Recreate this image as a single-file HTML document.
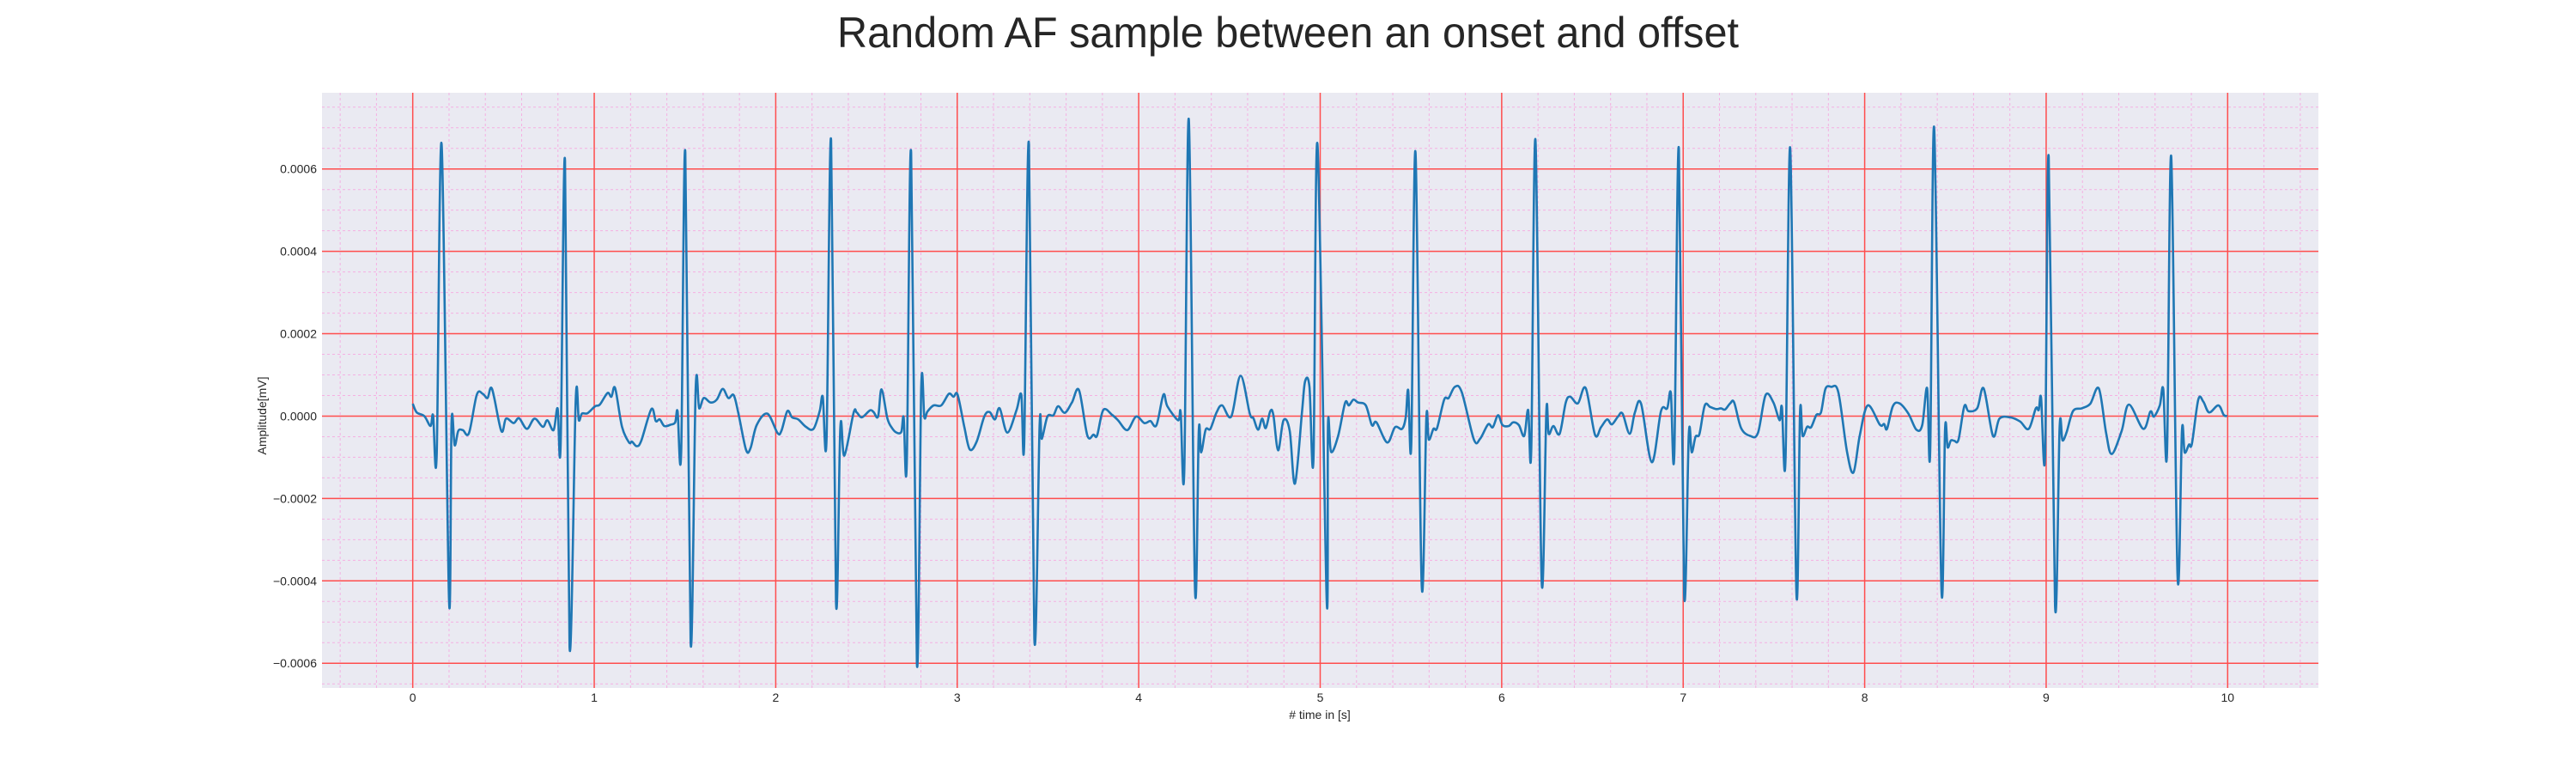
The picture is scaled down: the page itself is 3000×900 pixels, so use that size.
<!DOCTYPE html>
<html><head><meta charset="utf-8">
<style>
html,body{margin:0;padding:0;background:#fff;width:3000px;height:900px;overflow:hidden}
svg{display:block}
text{font-family:"Liberation Sans",sans-serif;fill:#262626}
</style></head>
<body>
<svg id="chart" width="3000" height="900" xmlns="http://www.w3.org/2000/svg">
<text x="1500" y="55" text-anchor="middle" font-size="50" textLength="1050" lengthAdjust="spacingAndGlyphs">Random AF sample between an onset and offset</text>
<rect x="375" y="108" width="2325" height="693" fill="#eaeaf2"/>
<g id="grid"></g>
<g id="ticks"></g>
<g id="series"></g>
<text x="1537" y="837" text-anchor="middle" font-size="14"># time in [s]</text>
<text transform="translate(310,484) rotate(-90)" text-anchor="middle" font-size="14">Amplitude[mV]</text>
</svg>
<script>
// data: time (s) and amplitude (units of 1e-5 mV)
const timeS = [0,0.022,0.064,0.098,0.112,0.132,0.159,0.2,0.214,0.231,0.251,0.276,0.31,0.353,0.386,0.412,0.437,0.488,0.514,0.556,0.586,0.629,0.671,0.717,0.742,0.776,0.798,0.815,0.839,0.864,0.898,0.915,0.932,0.963,1.005,1.031,1.073,1.095,1.115,1.153,1.192,1.208,1.234,1.259,1.315,1.339,1.361,1.386,1.42,1.446,1.459,1.479,1.502,1.531,1.559,1.578,1.603,1.641,1.675,1.708,1.739,1.768,1.793,1.836,1.861,1.895,1.954,2.01,2.031,2.064,2.09,2.124,2.166,2.208,2.242,2.259,2.28,2.305,2.332,2.356,2.378,2.429,2.446,2.475,2.519,2.539,2.564,2.583,2.615,2.641,2.666,2.692,2.705,2.722,2.746,2.778,2.802,2.819,2.836,2.87,2.912,2.954,2.98,3.002,3.039,3.069,3.107,3.149,3.178,3.208,3.234,3.276,3.327,3.353,3.369,3.395,3.425,3.454,3.466,3.497,3.53,3.556,3.593,3.632,3.671,3.717,3.751,3.771,3.805,3.853,3.886,3.937,3.985,4.031,4.064,4.098,4.136,4.158,4.217,4.231,4.251,4.276,4.31,4.331,4.344,4.369,4.395,4.429,4.46,4.51,4.561,4.612,4.632,4.658,4.68,4.7,4.725,4.742,4.768,4.798,4.832,4.861,4.9,4.917,4.941,4.963,4.985,5.036,5.043,5.06,5.099,5.137,5.158,5.183,5.208,5.251,5.285,5.31,5.369,5.412,5.451,5.471,5.485,5.502,5.525,5.559,5.585,5.598,5.624,5.644,5.683,5.708,5.742,5.78,5.847,5.881,5.925,5.951,5.98,6.005,6.039,6.064,6.095,6.124,6.146,6.163,6.186,6.22,6.246,6.259,6.285,6.319,6.353,6.378,6.42,6.463,6.514,6.547,6.581,6.607,6.641,6.666,6.705,6.734,6.768,6.827,6.878,6.912,6.932,6.951,6.976,7.005,7.031,7.047,7.068,7.09,7.119,7.149,7.183,7.208,7.231,7.259,7.281,7.319,7.369,7.412,7.454,7.497,7.531,7.544,7.564,7.59,7.624,7.644,7.658,7.683,7.705,7.734,7.759,7.784,7.815,7.855,7.902,7.938,7.973,8.017,8.084,8.107,8.123,8.155,8.191,8.241,8.285,8.317,8.344,8.361,8.383,8.423,8.443,8.457,8.475,8.494,8.517,8.549,8.572,8.62,8.656,8.707,8.743,8.801,8.856,8.904,8.943,8.959,8.972,8.994,9.014,9.049,9.074,9.09,9.112,9.148,9.196,9.243,9.29,9.33,9.361,9.416,9.456,9.535,9.574,9.594,9.626,9.645,9.666,9.689,9.724,9.748,9.763,9.787,9.803,9.838,9.866,9.898,9.949,9.978,9.997];
const ampE5 = [3.0,0.9,0,-2.4,0.2,-9.2,66,-45,-1.3,-7.1,-3.6,-3.4,-4.1,5.2,5.4,4.4,6.6,-3.6,-0.6,-1.7,-0.5,-3.1,-0.6,-2.6,-1.0,-3.4,1.9,-7.1,62,-56,4.0,-1.0,0.6,0.7,2.4,2.8,5.6,4.7,6.8,-2.6,-6.4,-6.2,-7.3,-6.0,1.7,-1.2,-0.8,-2.4,-2.1,-1.5,1.2,-8.7,64,-55,6.7,1.9,4.4,3.3,4.0,6.6,4.4,5.1,0.9,-8.1,-7.8,-2.2,0.6,-4.1,-3.6,1.2,-0.3,-0.8,-2.6,-3.1,1.2,4.7,-5.5,67,-45,-2.7,-9.6,0.8,0.9,-0.3,1.4,1.0,-0.1,6.5,-0.5,-2.9,-4.0,-3.8,-0.3,-11.6,64,-60,7.3,-0.3,1.1,2.6,2.6,5.4,4.7,5.2,-2.6,-8.1,-6.2,-0.1,1.0,-0.8,1.9,-4.0,1.5,5.2,-6.6,66,-54,-2.4,-5.5,-0.1,0.2,2.4,0.8,3.3,6.3,-4.7,-4.5,-4.7,1.5,0.3,-1.0,-3.4,-0.1,-1.7,-1.2,-2.2,5.2,2.4,-1.0,0.9,-13.3,72,-42,-3.6,-8.8,-3.3,-3.1,0.9,2.6,-0.1,9.8,0.6,-0.5,-3.3,-0.6,-2.9,1.2,0.2,-8.3,-1.0,-3.6,-16.4,1.2,8.5,7.1,-10.2,66,-45,-1.9,-8.7,-4.8,3.2,2.6,4.0,3.3,2.6,-2.2,-1.5,-6.4,-2.7,-3.1,-0.3,6.3,-6.7,64,-41,-0.5,-5.7,-3.1,-2.9,4.0,4.4,7.1,5.8,-5.7,-5.5,-2.0,-2.7,0.2,-2.2,-2.4,-1.5,-2.2,-4.8,1.5,-8.1,67,-40,1.2,-4.3,-2.4,-4.3,3.3,4.7,3.1,6.8,-4.5,-2.7,-0.8,-2.0,-0.1,0.6,-4.3,0.9,3.0,-11.2,1.2,1.9,5.6,-9.2,65,-43,-4.3,-8.8,-5.0,-4.3,2.6,2.2,1.7,1.9,1.6,3.1,3.3,-2.9,-4.8,-4.1,5.1,3.3,-1.0,2.2,-10.5,65,-43,0.8,-4.8,-2.6,-2.7,0.3,0.9,6.6,7.1,5.8,-8.5,-13.7,-4.7,2.6,-2.1,-1.9,-3.1,2.4,3.1,0.6,-3.3,-2.2,6.8,-8.5,70,-42,-3.3,-7.6,-5.9,-6.0,-5.7,2.4,1.2,1.9,6.7,-4.8,-0.6,-0.3,-1.3,-3.1,1.9,1.5,4.5,-9.5,63,-46,-2.9,-5.9,-4.0,1.2,1.9,3.0,6.7,-4.0,-9.2,-3.6,2.8,-3.1,1.1,-0.1,2.6,6.6,-8.8,63,-39,-3.6,-8.8,-6.9,-6.7,4.0,3.5,0.9,2.6,0.3,0];
const xTicks = [0,1,2,3,4,5,6,7,8,9,10];
const yTicks = [-0.0006,-0.0004,-0.0002,0,0.0002,0.0004,0.0006];
const yTickLabels = ["\u22120.0006","\u22120.0004","\u22120.0002","0.0000","0.0002","0.0004","0.0006"];

const NS="http://www.w3.org/2000/svg";
const L=375,R=2700,T=108,B=801;
const xMin=-0.5,xMax=10.5,yMin=-0.00066,yMax=0.000785;
function sx(t){return L+(t-xMin)/(xMax-xMin)*(R-L);}
function sy(v){return B-(v-yMin)/(yMax-yMin)*(B-T);}
function mk(tag,attrs,parent){const e=document.createElementNS(NS,tag);for(const k in attrs)e.setAttribute(k,attrs[k]);parent.appendChild(e);return e;}
const grid=document.getElementById('grid'),ticks=document.getElementById('ticks'),series=document.getElementById('series');
// minor grid
for(let i=-2;i<=52;i++){const t=i*0.2;if(t<xMin||t>xMax||i%5===0)continue;
  const l=mk('line',{x1:sx(t),x2:sx(t),y1:T,y2:B,stroke:'#f5b0e2','stroke-width':1,'stroke-dasharray':'3,3'},grid);
  
  }
for(let i=-13;i<=15;i++){const v=i*0.00005;if(v<yMin||v>yMax||i%4===0)continue;
  const l=mk('line',{x1:L,x2:R,y1:sy(v),y2:sy(v),stroke:'#f5b0e2','stroke-width':1,'stroke-dasharray':'3,3'},grid);
  
  }
// major grid + ticks
xTicks.forEach(t=>{const l=mk('line',{x1:sx(t),x2:sx(t),y1:T,y2:B,stroke:'#ff4d4d','stroke-width':1.5},grid);
  
  
  const tx=mk('text',{x:sx(t),y:817,'text-anchor':'middle','font-size':14},ticks);tx.textContent=String(t);
  
  });
yTicks.forEach((v,i)=>{const l=mk('line',{x1:L,x2:R,y1:sy(v),y2:sy(v),stroke:'#ff4d4d','stroke-width':1.5},grid);
  
  
  const tx=mk('text',{x:369,y:sy(v)+5,'text-anchor':'end','font-size':14},ticks);tx.textContent=yTickLabels[i];
  
  });
// series as smooth Catmull-Rom path
const P=timeS.map((t,i)=>[sx(t),sy(ampE5[i]*1e-5)]);
let d='M'+P[0][0].toFixed(1)+','+P[0][1].toFixed(1);
for(let i=0;i<P.length-1;i++){
  const p0=P[Math.max(0,i-1)],p1=P[i],p2=P[i+1],p3=P[Math.min(P.length-1,i+2)];
  const c1x=p1[0]+(p2[0]-p0[0])/6,c1y=p1[1]+(p2[1]-p0[1])/6;
  const c2x=p2[0]-(p3[0]-p1[0])/6,c2y=p2[1]-(p3[1]-p1[1])/6;
  d+=' C'+c1x.toFixed(1)+','+c1y.toFixed(1)+' '+c2x.toFixed(1)+','+c2y.toFixed(1)+' '+p2[0].toFixed(1)+','+p2[1].toFixed(1);
}
const pl=mk('path',{d:d,fill:'none',stroke:'#1f77b4','stroke-width':2.6,'stroke-linejoin':'round'},series);


</script>
</body></html>
